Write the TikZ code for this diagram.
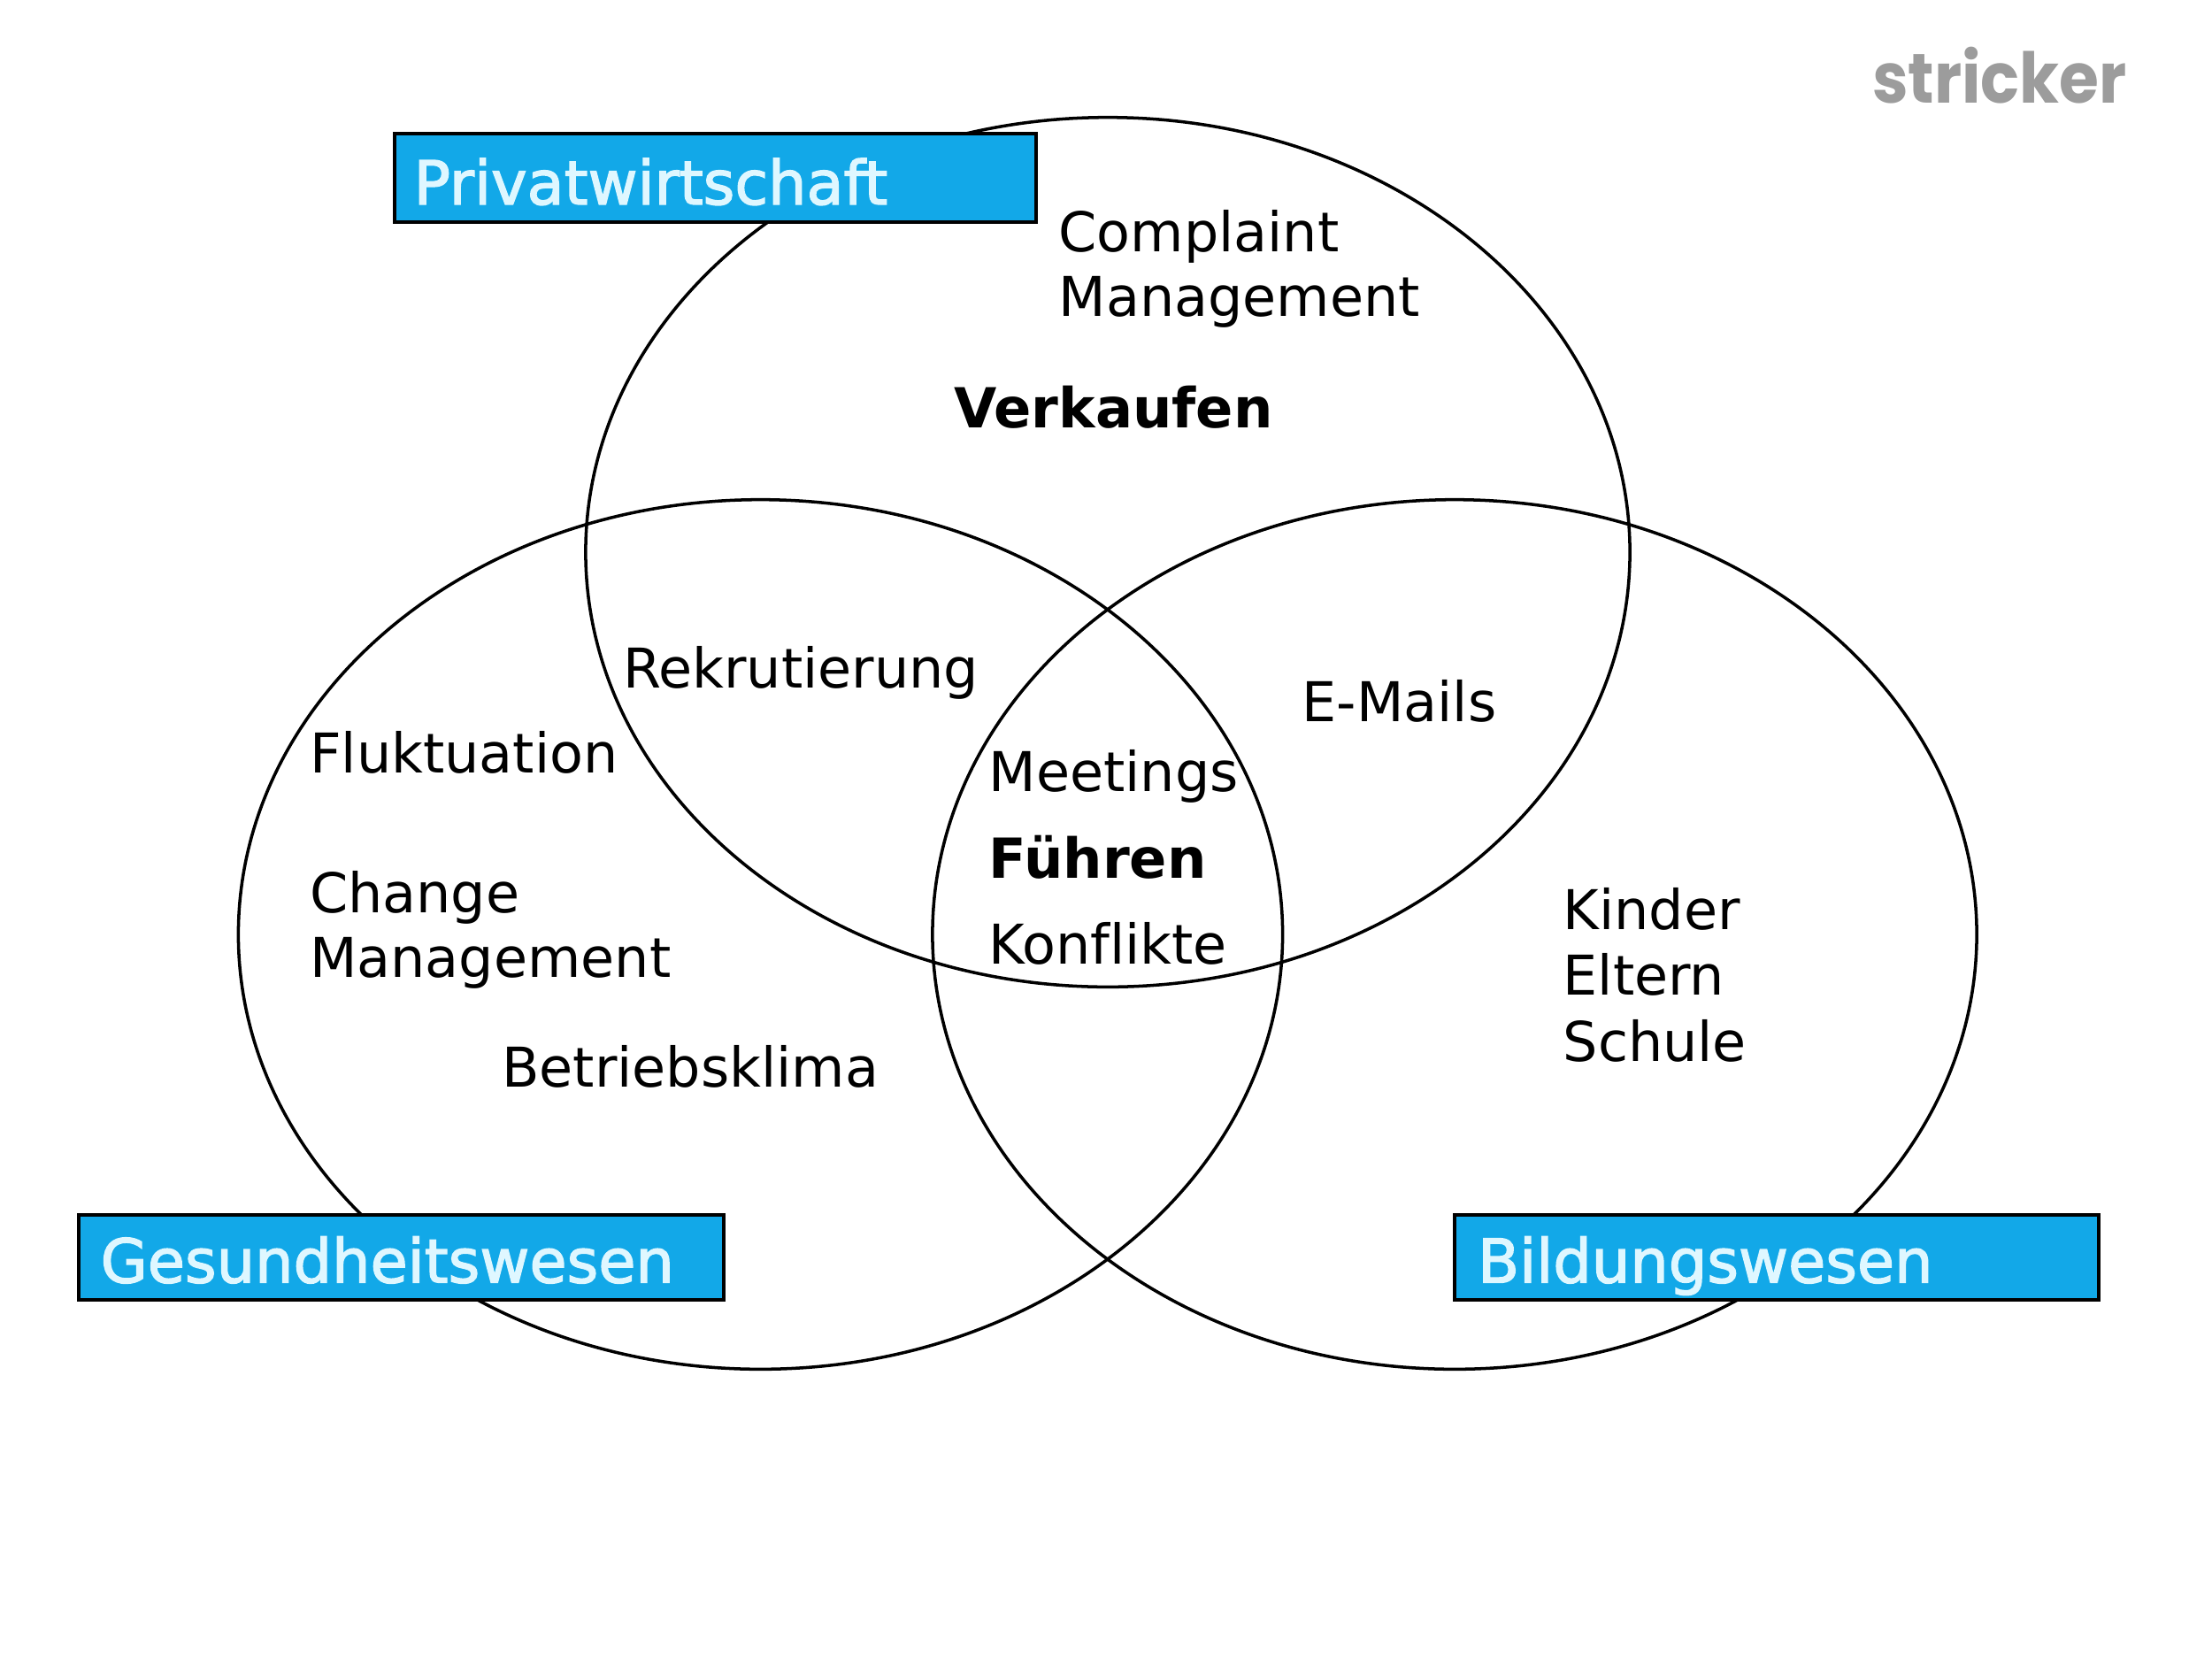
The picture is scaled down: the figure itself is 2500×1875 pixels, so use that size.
\documentclass[tikz,border=0pt]{standalone}
\usepackage{fontspec}
\setmainfont[Ligatures=NoCommon]{DejaVu Sans}
\newfontfamily\logofont[FakeStretch=0.92]{Poppins}
\usetikzlibrary{shapes.geometric}
\definecolor{boxblue}{HTML}{12A8E8}
\definecolor{boxtext}{HTML}{DFF7FF}
\definecolor{logogray}{HTML}{9C9C9C}
\newcommand{\heavytext}[1]{\special{pdf:code q 2 Tr 1.6 w 0.875 0.969 1 RG}#1\special{pdf:code Q}}
\tikzset{
  x=0.04cm,y=-0.04cm,
  venn/.style={draw=black,line width=4pt,ellipse,inner sep=0pt,minimum width=47.2cm,minimum height=39.3cm},
  label/.style={anchor=base west,inner sep=0pt,align=left,font=\fontsize{70.5}{83}\selectfont},
  strong/.style={label,font=\fontsize{71}{84}\selectfont\bfseries},
  sector/.style={draw=black,line width=4.5pt,fill=boxblue,anchor=north west,inner sep=0pt,outer sep=0pt},
  sectortext/.style={anchor=base west,inner sep=0pt,text=boxtext,font=\fontsize{78}{90}\selectfont},
}
\begin{document}
\begin{tikzpicture}
\useasboundingbox (0,0) rectangle (2500,1875);
\node[venn] (top) at (1252,624) {};
\node[venn] (left) at (859.5,1056) {};
\node[venn] (right) at (1644,1056) {};
\node[sector,minimum width=29cm,minimum height=4cm] (bp) at (446,151) {};
\node[sector,minimum width=29.16cm,minimum height=3.84cm] (bg) at (89,1373) {};
\node[sector,minimum width=29.12cm,minimum height=3.84cm] (bb) at (1644,1373) {};
\node[sectortext] (tp) at (467.5,231) {\heavytext{Privatwirtschaft}};
\node[sectortext] (tg) at (113.5,1449.5) {\heavytext{Gesundheitswesen}};
\node[sectortext] (tb) at (1670,1449.5) {\heavytext{Bildungswesen}};
\node[label] (complaint) at (1196.5,357) {Complaint\\Management};
\node[strong] (verkaufen) at (1078.5,483.5) {Verkaufen};
\node[label] (rekrut) at (704,777) {Rekrutierung};
\node[label] (emails) at (1471.5,815) {E-Mails};
\node[label] (fluk) at (350,873.5) {Fluktuation};
\node[label] (change) at (350,1104) {Change\\Management};
\node[label] (klima) at (567,1228.5) {Betriebsklima};
\node[label] (meet) at (1117.5,894.5) {Meetings};
\node[strong] (fuehren) at (1117.5,992.5) {Führen};
\node[label] (konf) at (1117.5,1089) {Konflikte};
\node[label,font=\fontsize{70.5}{84.5}\selectfont] (kinder) at (1766.5,1199) {Kinder\\Eltern\\Schule};
\node[anchor=base west,inner sep=0pt,text=logogray,font=\logofont\bfseries\fontsize{90}{90}\selectfont] (logo) at (2116,116) {stricker};
\end{tikzpicture}
\end{document}
